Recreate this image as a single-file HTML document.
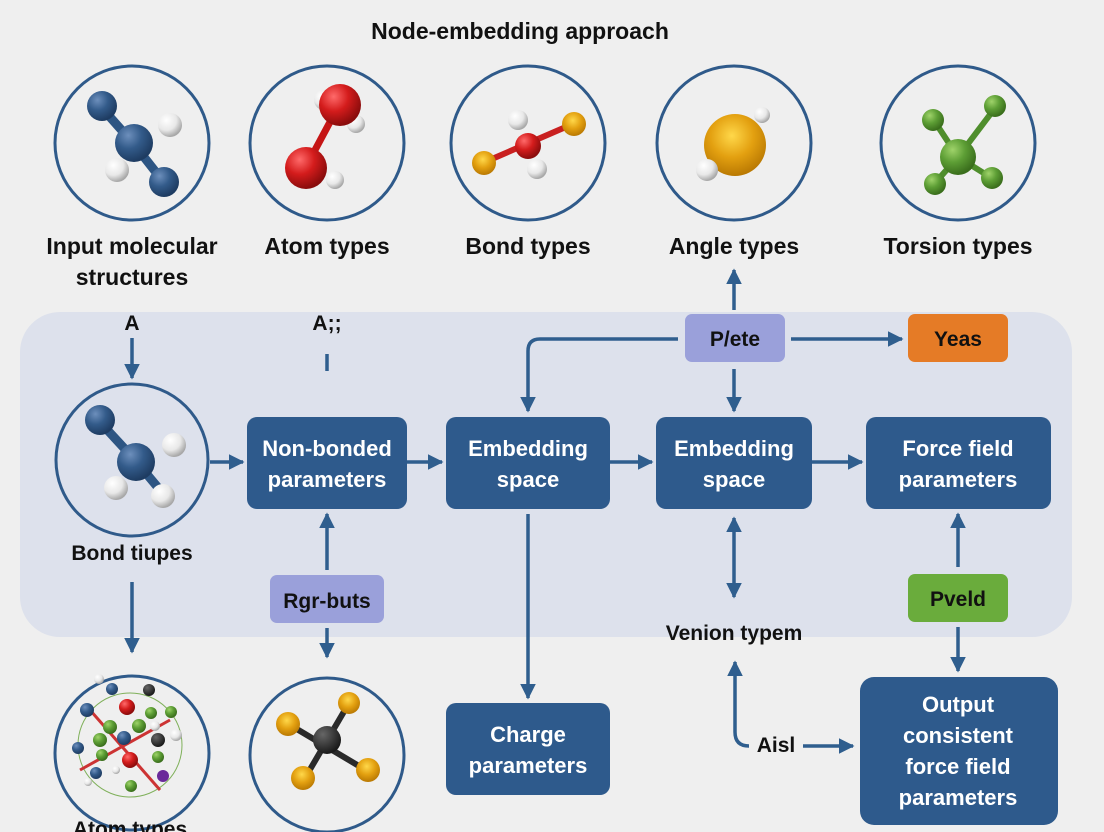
<!DOCTYPE html>
<html><head><meta charset="utf-8"><style>
html,body{margin:0;padding:0;background:#efefef;}
svg{display:block;}
text{font-family:"Liberation Sans","DejaVu Sans",sans-serif;}
</style></head><body>
<svg width="1104" height="832" viewBox="0 0 1104 832" xmlns="http://www.w3.org/2000/svg">
<defs>
<radialGradient id="gB" cx="35%" cy="30%" r="70%"><stop offset="0" stop-color="#6d8fbc"/><stop offset="0.5" stop-color="#335b8a"/><stop offset="1" stop-color="#1e3c62"/></radialGradient>
<radialGradient id="gW" cx="35%" cy="30%" r="70%"><stop offset="0" stop-color="#fff"/><stop offset="0.6" stop-color="#e8e8e8"/><stop offset="1" stop-color="#a8a8a8"/></radialGradient>
<radialGradient id="gR" cx="35%" cy="30%" r="70%"><stop offset="0" stop-color="#ff6a6a"/><stop offset="0.5" stop-color="#d41c1c"/><stop offset="1" stop-color="#8a0c0c"/></radialGradient>
<radialGradient id="gO" cx="45%" cy="35%" r="70%"><stop offset="0" stop-color="#ffd84a"/><stop offset="0.5" stop-color="#e3a010"/><stop offset="1" stop-color="#b27200"/></radialGradient>
<radialGradient id="gG" cx="35%" cy="30%" r="70%"><stop offset="0" stop-color="#9fd36a"/><stop offset="0.5" stop-color="#5d9e35"/><stop offset="1" stop-color="#3a6e1c"/></radialGradient>
<radialGradient id="gK" cx="35%" cy="30%" r="70%"><stop offset="0" stop-color="#666"/><stop offset="1" stop-color="#1a1a1a"/></radialGradient>
<marker id="ah" viewBox="0 0 10 10" refX="9" refY="5" markerWidth="4.5" markerHeight="4.5" orient="auto-start-reverse"><path d="M0,0 L10,5 L0,10 z" fill="#2f5e8e"/></marker>
</defs>
<rect width="1104" height="832" fill="#efefef"/>
<text x="520" y="39" font-size="23" font-weight="bold" text-anchor="middle" fill="#111">Node-embedding approach</text>

<rect x="20" y="312" width="1052" height="325" rx="40" fill="#dde1ec"/>

<g fill="none" stroke="#2f5a8a" stroke-width="3">
<circle cx="132" cy="143" r="77"/><circle cx="327" cy="143" r="77"/><circle cx="528" cy="143" r="77"/><circle cx="734" cy="143" r="77"/><circle cx="958" cy="143" r="77"/>
<circle cx="132" cy="460" r="76"/><circle cx="132" cy="753" r="77"/><circle cx="327" cy="755" r="77"/>
</g>

<g stroke="#2d5583" stroke-width="9">
<line x1="133" y1="143" x2="102" y2="108"/><line x1="133" y1="143" x2="162" y2="180"/>
</g>
<circle cx="102" cy="106" r="15" fill="url(#gB)"/><circle cx="170" cy="125" r="12" fill="url(#gW)"/><circle cx="117" cy="170" r="12" fill="url(#gW)"/>
<circle cx="134" cy="143" r="19" fill="url(#gB)"/><circle cx="164" cy="182" r="15" fill="url(#gB)"/>
<circle cx="324" cy="100" r="10" fill="url(#gW)"/><circle cx="356" cy="124" r="9" fill="url(#gW)"/>
<line x1="338" y1="107" x2="307" y2="165" stroke="#c51515" stroke-width="7"/>
<circle cx="340" cy="105" r="21" fill="url(#gR)"/><circle cx="335" cy="180" r="9" fill="url(#gW)"/><circle cx="306" cy="168" r="21" fill="url(#gR)"/>
<g stroke="#c92020" stroke-width="6"><line x1="485" y1="162" x2="575" y2="123"/></g>
<circle cx="518" cy="120" r="10" fill="url(#gW)"/><circle cx="528" cy="146" r="13" fill="url(#gR)"/><circle cx="537" cy="169" r="10" fill="url(#gW)"/>
<circle cx="574" cy="124" r="12" fill="url(#gO)"/><circle cx="484" cy="163" r="12" fill="url(#gO)"/>
<circle cx="735" cy="145" r="31" fill="url(#gO)"/><circle cx="762" cy="115" r="8" fill="url(#gW)"/><circle cx="707" cy="170" r="11" fill="url(#gW)"/>
<g stroke="#4f8e2c" stroke-width="6"><line x1="958" y1="157" x2="935" y2="122"/><line x1="958" y1="157" x2="995" y2="108"/><line x1="958" y1="157" x2="935" y2="183"/><line x1="958" y1="157" x2="990" y2="177"/></g>
<circle cx="933" cy="120" r="11" fill="url(#gG)"/><circle cx="995" cy="106" r="11" fill="url(#gG)"/><circle cx="958" cy="157" r="18" fill="url(#gG)"/><circle cx="935" cy="184" r="11" fill="url(#gG)"/><circle cx="992" cy="178" r="11" fill="url(#gG)"/>
<g stroke="#2d5583" stroke-width="9"><line x1="135" y1="460" x2="100" y2="422"/><line x1="135" y1="460" x2="160" y2="490"/></g>
<circle cx="100" cy="420" r="15" fill="url(#gB)"/><circle cx="174" cy="445" r="12" fill="url(#gW)"/>
<circle cx="136" cy="462" r="19" fill="url(#gB)"/><circle cx="116" cy="488" r="12" fill="url(#gW)"/><circle cx="163" cy="496" r="12" fill="url(#gW)"/>
<circle cx="130" cy="745" r="52" fill="none" stroke="#7fb05a" stroke-width="1"/>
<g stroke="#c33" stroke-width="3"><line x1="90" y1="710" x2="160" y2="790"/><line x1="80" y1="770" x2="170" y2="720"/></g>
<circle cx="112" cy="689" r="6" fill="url(#gB)"/><circle cx="99" cy="679" r="5" fill="url(#gW)"/><circle cx="149" cy="690" r="6" fill="url(#gK)"/><circle cx="127" cy="707" r="8" fill="url(#gR)"/>
<circle cx="87" cy="710" r="7" fill="url(#gB)"/><circle cx="171" cy="712" r="6" fill="url(#gG)"/><circle cx="151" cy="713" r="6" fill="url(#gG)"/>
<circle cx="110" cy="727" r="7" fill="url(#gG)"/><circle cx="139" cy="726" r="7" fill="url(#gG)"/><circle cx="155" cy="726" r="5" fill="url(#gW)"/>
<circle cx="100" cy="740" r="7" fill="url(#gG)"/><circle cx="124" cy="738" r="7" fill="url(#gB)"/><circle cx="158" cy="740" r="7" fill="url(#gK)"/><circle cx="176" cy="735" r="6" fill="url(#gW)"/>
<circle cx="78" cy="748" r="6" fill="url(#gB)"/><circle cx="130" cy="760" r="8" fill="url(#gR)"/><circle cx="158" cy="757" r="6" fill="url(#gG)"/><circle cx="102" cy="755" r="6" fill="url(#gG)"/>
<circle cx="96" cy="773" r="6" fill="url(#gB)"/><circle cx="163" cy="776" r="6" fill="#6a2a9a"/><circle cx="131" cy="786" r="6" fill="url(#gG)"/><circle cx="88" cy="782" r="4" fill="url(#gW)"/><circle cx="116" cy="770" r="4" fill="url(#gW)"/>
<g stroke="#2a2a2a" stroke-width="6"><line x1="290" y1="725" x2="364" y2="769"/><line x1="349" y1="703" x2="305" y2="778"/></g>
<circle cx="288" cy="724" r="12" fill="url(#gO)"/><circle cx="349" cy="703" r="11" fill="url(#gO)"/><circle cx="368" cy="770" r="12" fill="url(#gO)"/><circle cx="303" cy="778" r="12" fill="url(#gO)"/>
<circle cx="327" cy="740" r="14" fill="url(#gK)"/>

<g font-size="23" fill="#111" text-anchor="middle" font-weight="bold">
<text x="132" y="254">Input molecular</text><text x="132" y="285">structures</text>
<text x="327" y="254">Atom types</text><text x="528" y="254">Bond types</text><text x="734" y="254">Angle types</text><text x="958" y="254">Torsion types</text>
<text x="132" y="330" font-size="21">A</text><text x="327" y="330" font-size="21">A;;</text>
<text x="132" y="560" font-size="21">Bond tiupes</text>
<text x="734" y="640" font-size="21">Venion typem</text>
<text x="130" y="836" font-size="21">Atom types</text>
<text x="776" y="752" font-size="21">Aisl</text>
</g>

<g fill="#2e5a8c">
<rect x="247" y="417" width="160" height="92" rx="10"/><rect x="446" y="417" width="164" height="92" rx="10"/><rect x="656" y="417" width="156" height="92" rx="10"/><rect x="866" y="417" width="185" height="92" rx="10"/>
<rect x="446" y="703" width="164" height="92" rx="10"/><rect x="860" y="677" width="198" height="148" rx="14"/>
</g>
<g font-size="22" fill="#fff" text-anchor="middle" font-weight="bold">
<text x="327" y="456">Non-bonded</text><text x="327" y="487">parameters</text>
<text x="528" y="456">Embedding</text><text x="528" y="487">space</text>
<text x="734" y="456">Embedding</text><text x="734" y="487">space</text>
<text x="958" y="456">Force field</text><text x="958" y="487">parameters</text>
<text x="528" y="742">Charge</text><text x="528" y="773">parameters</text>
<text x="958" y="712">Output</text><text x="958" y="743">consistent</text><text x="958" y="774">force field</text><text x="958" y="805">parameters</text>
</g>
<rect x="685" y="314" width="100" height="48" rx="7" fill="#9aa0da"/>
<rect x="908" y="314" width="100" height="48" rx="7" fill="#e57b26"/>
<rect x="270" y="575" width="114" height="48" rx="7" fill="#9aa0da"/>
<rect x="908" y="574" width="100" height="48" rx="7" fill="#6aac3c"/>
<g font-size="21" fill="#111" text-anchor="middle" font-weight="bold">
<text x="735" y="346">P/ete</text><text x="958" y="346">Yeas</text><text x="327" y="608">Rgr-buts</text><text x="958" y="606">Pveld</text>
</g>

<g stroke="#2f5e8e" stroke-width="3.5" fill="none">
<line x1="132" y1="338" x2="132" y2="378" marker-end="url(#ah)"/>
<line x1="327" y1="354" x2="327" y2="371"/>
<line x1="210" y1="462" x2="243" y2="462" marker-end="url(#ah)"/>
<line x1="407" y1="462" x2="442" y2="462" marker-end="url(#ah)"/>
<line x1="610" y1="462" x2="652" y2="462" marker-end="url(#ah)"/>
<line x1="812" y1="462" x2="862" y2="462" marker-end="url(#ah)"/>
<line x1="132" y1="582" x2="132" y2="652" marker-end="url(#ah)"/>
<line x1="327" y1="570" x2="327" y2="514" marker-end="url(#ah)"/>
<line x1="327" y1="628" x2="327" y2="657" marker-end="url(#ah)"/>
<line x1="528" y1="514" x2="528" y2="698" marker-end="url(#ah)"/>
<path d="M678,339 L540,339 Q528,339 528,351 L528,411" marker-end="url(#ah)"/>
<line x1="734" y1="310" x2="734" y2="270" marker-end="url(#ah)"/>
<line x1="734" y1="369" x2="734" y2="411" marker-end="url(#ah)"/>
<line x1="791" y1="339" x2="902" y2="339" marker-end="url(#ah)"/>
<line x1="734" y1="518" x2="734" y2="597" marker-start="url(#ah)" marker-end="url(#ah)"/>
<line x1="958" y1="567" x2="958" y2="514" marker-end="url(#ah)"/>
<line x1="958" y1="627" x2="958" y2="671" marker-end="url(#ah)"/>
<path d="M749,746 Q735,746 735,732 L735,662" marker-end="url(#ah)"/>
<line x1="803" y1="746" x2="853" y2="746" marker-end="url(#ah)"/>
</g>
</svg>
</body></html>
